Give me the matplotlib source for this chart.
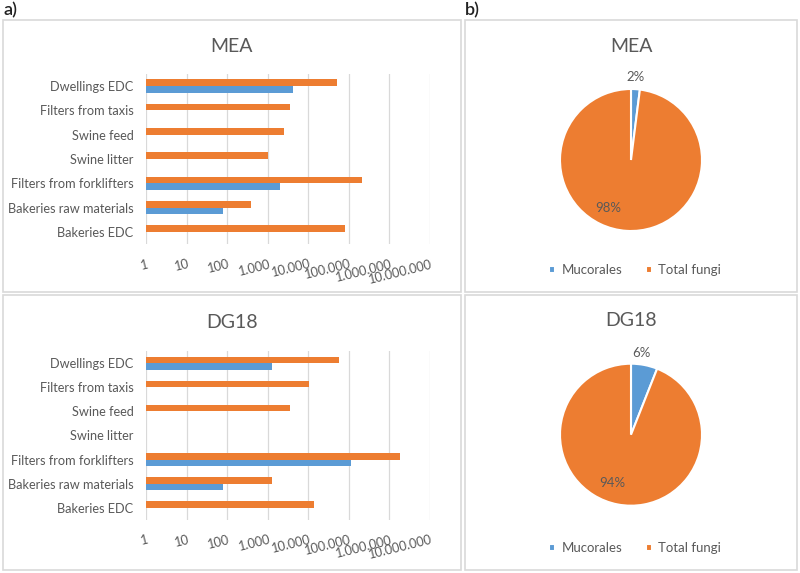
import matplotlib
matplotlib.use("Agg")
import matplotlib.pyplot as plt
import numpy as np
from matplotlib.patches import Rectangle
from matplotlib.ticker import FixedLocator, FuncFormatter

plt.rcParams['font.family'] = ['Lato', 'DejaVu Sans']

categories = ["Bakeries EDC", "Bakeries raw materials", "Filters from forklifters",
              "Swine litter", "Swine feed", "Filters from taxis", "Dwellings EDC"]
series_names = ["Mucorales", "Total fungi"]

mea_mucorales = [0, 78, 2000, 0, 0, 0, 4300]
mea_total = [82000, 390, 208000, 1000, 2500, 3500, 51000]
dg18_mucorales = [0, 78, 113000, 0, 0, 0, 1300]
dg18_total = [13800, 1300, 1800000, 0, 3450, 10500, 57000]

pie_mea = [2, 98]
pie_dg18 = [6, 94]

tick_values = [1, 10, 100, 1000, 10000, 100000, 1000000, 10000000]

BLUE = "#5B9BD5"
ORANGE = "#ED7D31"
TXT = "#595959"
GRID = "#D9D9D9"

W, H = 800, 573
fig = plt.figure(figsize=(8, 5.73), dpi=100)


def px_axes(x0, y0, x1, y1):
    return fig.add_axes([x0 / W, 1 - y1 / H, (x1 - x0) / W, (y1 - y0) / H])


# panel borders
for (x0, y0, x1, y1) in [(3, 20, 461, 292), (3, 295, 461, 570), (465, 20, 797, 292), (465, 295, 797, 570)]:
    fig.patches.append(Rectangle((x0 / W, 1 - y1 / H), (x1 - x0) / W, (y1 - y0) / H,
                                 transform=fig.transFigure, fill=False, edgecolor=GRID, lw=1.2))

fig.text(4 / W, 1 - 10 / H, "a)", fontsize=13, fontweight="semibold", color="#222222", va="center", ha="left")
fig.text(465 / W, 1 - 10 / H, "b)", fontsize=13, fontweight="semibold", color="#222222", va="center", ha="left")


def bar_panel(ax, muc, tot, title, title_y):
    y = np.arange(len(categories))
    h = 0.27
    muc = np.array(muc, dtype=float)
    tot = np.array(tot, dtype=float)
    m_mask = muc > 0
    t_mask = tot > 0
    ax.barh(y[m_mask] - h / 2, muc[m_mask], height=h, left=1, color=BLUE, zorder=3)
    ax.barh(y[t_mask] + h / 2, tot[t_mask], height=h, left=1, color=ORANGE, zorder=3)
    ax.set_xscale("log")
    ax.set_xlim(1, 1e7)
    ax.set_ylim(-0.5, len(categories) - 0.5)
    ax.set_yticks(y)
    ax.set_yticklabels(categories, fontsize=9.2, color=TXT)
    ax.xaxis.set_major_locator(FixedLocator(tick_values))
    ax.xaxis.set_minor_locator(FixedLocator([]))
    ax.xaxis.set_major_formatter(FuncFormatter(lambda v, p: f"{int(round(v)):,}".replace(",", ".")))
    for lab in ax.get_xticklabels():
        lab.set_rotation(14)
        lab.set_ha("right")
        lab.set_va("top")
        lab.set_rotation_mode("anchor")
        lab.set_fontsize(9.2)
        lab.set_color(TXT)
    ax.tick_params(axis="both", length=0)
    ax.tick_params(axis="y", pad=9)
    ax.tick_params(axis="x", pad=10)
    for s in ax.spines.values():
        s.set_visible(False)
    ax.grid(axis="x", color=GRID, lw=0.9, zorder=0)
    ax.set_axisbelow(True)
    fig.text(232 / W, 1 - title_y / H, title, fontsize=14, color=TXT, ha="center", va="center")


ax1 = px_axes(146, 73.8, 430, 244.2)
bar_panel(ax1, mea_mucorales, mea_total, "MEA", 46)
ax2 = px_axes(146, 351, 430, 520)
bar_panel(ax2, dg18_mucorales, dg18_total, "DG18", 323)


def pie_panel(cx, cy, r, vals, title, title_y, leg_y, small_pos, big_pos):
    s = 3 * r
    ax = px_axes(cx - s / 2, cy - s / 2, cx + s / 2, cy + s / 2)
    wedges, _ = ax.pie(vals, colors=[BLUE, ORANGE], startangle=90, counterclock=False,
                       wedgeprops=dict(edgecolor="white", linewidth=1.5))
    ax.set_xlim(-1.5, 1.5)
    ax.set_ylim(-1.5, 1.5)
    ax.set_aspect("equal")
    ax.axis("off")
    ax.text(small_pos[0], small_pos[1], f"{vals[0]}%", fontsize=9.5, color=TXT, ha="center", va="center")
    ax.text(big_pos[0], big_pos[1], f"{vals[1]}%", fontsize=9.5, color=TXT, ha="center", va="center")
    fig.text(cx / W, 1 - title_y / H, title, fontsize=14, color=TXT, ha="center", va="center")
    fig.legend(wedges, series_names, loc="center", bbox_to_anchor=((cx + 4) / W, 1 - leg_y / H),
               ncol=2, frameon=False, fontsize=9.5, handlelength=0.45, handleheight=0.45,
               handletextpad=0.5, columnspacing=1.8, labelcolor=TXT)


pie_panel(631, 160, 71, pie_mea, "MEA", 46, 270, (0.07, 1.17), (-0.32, -0.68))
pie_panel(631, 434.7, 71, pie_dg18, "DG18", 320, 548, (0.14, 1.15), (-0.27, -0.68))

fig.savefig("out.png", dpi=100, facecolor="white")
